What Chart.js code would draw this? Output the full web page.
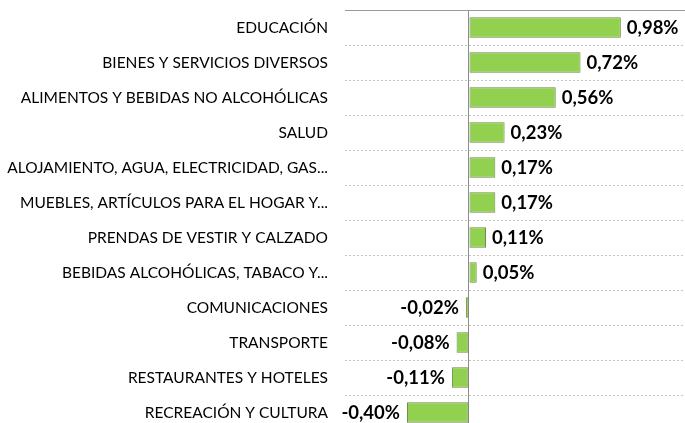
<!DOCTYPE html>
<html>
<head>
<meta charset="utf-8">
<script src="https://cdn.jsdelivr.net/npm/chart.js@4.4.1/dist/chart.umd.min.js"></script>
<style>
  html, body { margin: 0; padding: 0; background: #fff; overflow: hidden; }
  #wrap { width: 685px; height: 430px; position: relative; }
</style>
</head>
<body>
<div id="wrap"><canvas id="chart"></canvas></div>
<script>
// categories, top to bottom
const categories = [
  'EDUCACIÓN',
  'BIENES Y SERVICIOS DIVERSOS',
  'ALIMENTOS Y BEBIDAS NO ALCOHÓLICAS',
  'SALUD',
  'ALOJAMIENTO, AGUA, ELECTRICIDAD, GAS...',
  'MUEBLES, ARTÍCULOS PARA EL HOGAR Y...',
  'PRENDAS DE VESTIR Y CALZADO',
  'BEBIDAS ALCOHÓLICAS, TABACO Y...',
  'COMUNICACIONES',
  'TRANSPORTE',
  'RESTAURANTES Y HOTELES',
  'RECREACIÓN Y CULTURA'
];
// variación (%)
const values = [0.98, 0.72, 0.56, 0.23, 0.17, 0.17, 0.11, 0.05, -0.02, -0.08, -0.11, -0.40];

const fmt = v => v.toFixed(2).replace('.', ',') + '%';

// bold value labels at the end of each bar
const valueLabels = {
  id: 'valueLabels',
  afterDatasetsDraw(chart) {
    const ctx = chart.ctx;
    const meta = chart.getDatasetMeta(0);
    ctx.save();
    ctx.font = 'bold 18.5px Lato';
    ctx.fillStyle = '#000';
    ctx.textBaseline = 'middle';
    meta.data.forEach((bar, i) => {
      const v = values[i];
      if (v >= 0) {
        ctx.textAlign = 'left';
        ctx.fillText(fmt(v), bar.x + 6, bar.y + 1);
      } else {
        ctx.textAlign = 'right';
        ctx.fillText(fmt(v), bar.x - 7, bar.y + 1);
      }
    });
    ctx.restore();
  }
};

new Chart(document.getElementById('chart'), {
  type: 'bar',
  data: {
    labels: categories,
    datasets: [{
      data: values,
      backgroundColor: '#92D050',
      borderColor: '#6f8d48',
      borderWidth: 1,
      borderSkipped: false,
      categoryPercentage: 1,
      barPercentage: 0.58
    }]
  },
  options: {
    indexAxis: 'y',
    responsive: true,
    maintainAspectRatio: false,
    animation: false,
    layout: { padding: { top: 10, right: 0, bottom: 0, left: 0 } },
    plugins: { legend: { display: false }, tooltip: { enabled: false } },
    scales: {
      x: {
        position: 'top',
        min: -0.8,
        max: 1.394,
        afterBuildTicks: s => { s.ticks = [{ value: 0 }]; },
        afterFit: s => { s.height = 0; s.paddingLeft = 0; s.paddingRight = 0; },
        ticks: { display: false },
        grid: { color: '#8c8c8c', lineWidth: 1, drawTicks: false },
        border: { display: true, color: '#9a9a9a', width: 1 }
      },
      y: {
        afterFit: s => { s.width = 345; s.paddingTop = 0; s.paddingBottom = 0; },
        ticks: {
          color: '#000',
          padding: 0,
          font: { family: 'Lato', size: 15.5 }
        },
        grid: {
          offset: true,
          drawTicks: true,
          tickLength: 17,
          tickColor: 'rgba(0,0,0,0)',
          color: '#c4c4c4',
          lineWidth: 1
        },
        border: { display: false, dash: [2, 2] }
      }
    }
  },
  plugins: [valueLabels]
});
</script>
</body>
</html>
